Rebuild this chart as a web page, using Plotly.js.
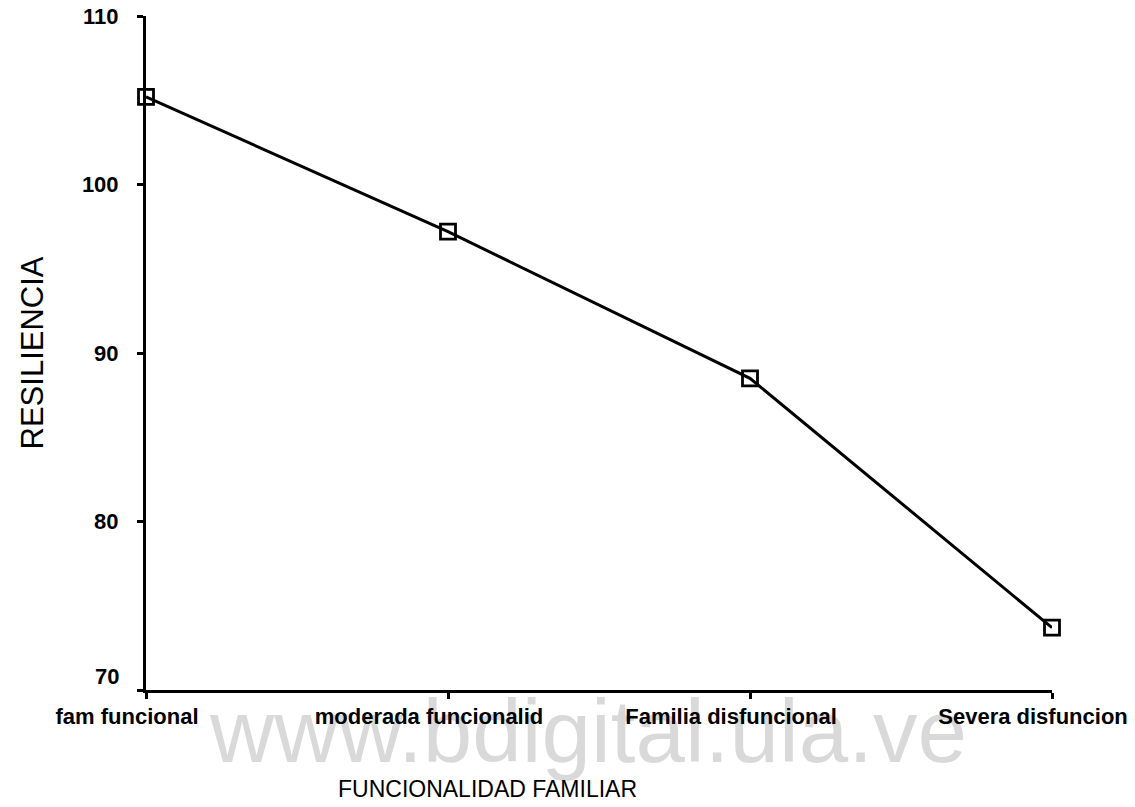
<!DOCTYPE html>
<html>
<head>
<meta charset="utf-8">
<script src="https://cdn.plot.ly/plotly-3.0.1.min.js"></script>
<style>html,body{margin:0;padding:0;background:#fff;}#chart{width:1135px;height:807px;}</style>
</head>
<body>
<div id="chart"></div>
<script>
const categories = ["fam funcional", "moderada funcionalid", "Familia disfuncional", "Severa disfuncion"];
const resiliencia = [105.2, 97.2, 88.5, 73.7];
const yTickVals = [70, 80, 90, 100, 110];
const yTickText = ["", "80", "90", "100", "110"];
const xTitle = "FUNCIONALIDAD FAMILIAR";
const yTitle = "RESILIENCIA";
const watermark = "www.bdigital.ula.ve";

const FONT = "Arial, 'Liberation Sans', Helvetica, sans-serif";

const trace = {
  x: categories,
  y: resiliencia,
  type: "scatter",
  mode: "lines+markers",
  line: {color: "#000", width: 3},
  marker: {symbol: "square-open", size: 15, color: "#000", line: {color: "#000", width: 2.8}},
  cliponaxis: false,
  showlegend: false,
  hoverinfo: "x+y"
};

const layout = {
  width: 1135, height: 807,
  margin: {l: 146, r: 83, t: 16, b: 117, pad: 0},
  paper_bgcolor: "#fff", plot_bgcolor: "#fff",
  font: {family: FONT, color: "#000"},
  xaxis: {
    type: "category",
    range: [0, 3],
    showgrid: false, zeroline: false,
    showline: true, linecolor: "#000", linewidth: 2.5,
    ticks: "outside", ticklen: 6, tickwidth: 3, tickcolor: "#000",
    tickfont: {family: FONT, size: 22, color: "#000", weight: "bold"},
    ticklabelshift: -19,
    ticklabelstandoff: -1,
    automargin: false
  },
  yaxis: {
    range: [70, 110],
    tickvals: yTickVals, ticktext: yTickText,
    showgrid: false, zeroline: false,
    showline: true, linecolor: "#000", linewidth: 3,
    ticks: "outside", ticklen: 6, tickwidth: 3, tickcolor: "#000",
    tickfont: {family: FONT, size: 22, color: "#000", weight: "bold"},
    ticklabelstandoff: 14,
    title: {text: yTitle, font: {family: FONT, size: 31, color: "#000"}, standoff: 30},
    automargin: false
  },
  annotations: [
    {text: watermark, xref: "paper", yref: "paper", x: (588 - 146) / 906, y: (690 - 731) / 674,
     xanchor: "center", yanchor: "middle", showarrow: false,
     font: {family: FONT, size: 89, color: "rgba(0,0,0,0.15)"}},
    {text: "70", xref: "paper", yref: "y", x: 0, y: 70, xanchor: "right", yanchor: "middle",
     xshift: -25, yshift: 14, showarrow: false,
     font: {family: FONT, size: 22, color: "#000", weight: "bold"}},
    {text: xTitle, xref: "paper", yref: "paper", x: (487 - 146) / 906, y: (690 - 789) / 674,
     xanchor: "center", yanchor: "middle", showarrow: false,
     font: {family: FONT, size: 23, color: "#000"}}
  ]
};

Plotly.newPlot("chart", [trace], layout, {displayModeBar: false, staticPlot: true});
</script>
</body>
</html>
